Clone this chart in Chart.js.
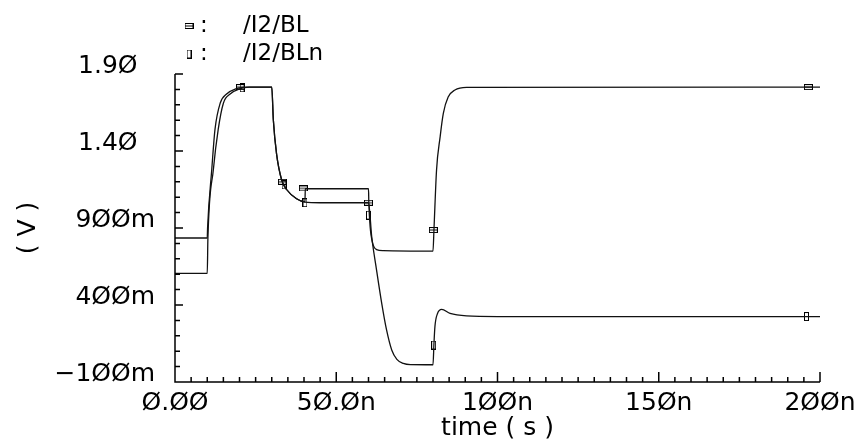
<!DOCTYPE html>
<html>
<head>
<meta charset="utf-8">
<script src="https://cdn.jsdelivr.net/npm/chart.js@4.4.0/dist/chart.umd.min.js"></script>
<style>
    html, body { margin: 0; padding: 0; background: #fff; }
    #wrap { width: 865px; height: 448px; }
</style>
</head>
<body>
<div id="wrap"><canvas id="WaveChart"></canvas></div>
<script>
// transient result, time in ns, volts
var tBL = [0, 10, 10.1, 11.4, 12.4, 14.0, 16.0, 19.0, 22, 30, 30.5, 31.5, 33.1, 34.6, 37.7, 40.3, 40.4, 60, 60.1,
    60.5, 61.3, 62.5, 64.6, 80, 80.3, 81.1, 82.2, 83.2, 84.7, 86.8, 90.4, 200];
var vBL = [0.835, 0.835, 0.90, 1.28, 1.54, 1.71, 1.77, 1.805, 1.815, 1.815, 1.60, 1.38, 1.21, 1.15, 1.09, 1.07, 1.155, 1.155, 1.065,
    0.91, 0.80, 0.76, 0.753, 0.75, 0.89, 1.277, 1.49, 1.644, 1.75, 1.796, 1.813, 1.815];
var tBLn = [0, 10, 10.2, 11.9, 13.4, 15.0, 17.1, 20.2, 23, 30, 30.5, 31.5, 33.1, 34.6, 37.7, 40.3, 45, 60,
    61.0, 62.5, 64.1, 65.6, 67.2, 68.8, 70.8, 73, 80, 80.3, 80.6, 81.4, 82.7, 85.3, 90.4, 100, 200];
var vBLn = [0.605, 0.605, 0.83, 1.28, 1.54, 1.71, 1.77, 1.805, 1.815, 1.815, 1.60, 1.38, 1.21, 1.15, 1.09, 1.068, 1.064, 1.064,
    0.843, 0.627, 0.411, 0.238, 0.108, 0.047, 0.021, 0.013, 0.012, 0.15, 0.26, 0.345, 0.372, 0.345, 0.329, 0.325, 0.325];

// trace markers
var markBLt = [20.3, 33.3, 39.8, 60.0, 80.1, 196.4];
var markBLv = [1.815, 1.20, 1.157, 1.064, 0.887, 1.815];
var markBLnT = [20.8, 33.8, 40.3, 60.0, 80.2, 195.8];
var markBLnV = [1.81, 1.18, 1.064, 0.984, 0.14, 0.325];

var xTicks = [0, 50, 100, 150, 200];
var xTickLabels = ["Ø.ØØ", "5Ø.Øn", "1ØØn", "15Øn", "2ØØn"];
var yTicks = [-0.1, 0.4, 0.9, 1.4, 1.9];
var yTickLabels = ["\u22121ØØm", "4ØØm", "9ØØm", "1.4Ø", "1.9Ø"];

var FONT = "'DejaVu Sans', sans-serif";

function pts(t, v) {
    return t.map(function (x, i) { return { x: x, y: v[i] }; });
}

function markerCanvas(w, h, horizontal) {
    var c = document.createElement("canvas");
    c.width = w;
    c.height = h;
    var g = c.getContext("2d");
    g.strokeStyle = "#000";
    g.lineWidth = 1;
    g.strokeRect(0.5, 0.5, w - 1, h - 1);
    g.beginPath();
    if (horizontal) {
        g.moveTo(1, h / 2); g.lineTo(w - 1, h / 2);
    }
    g.stroke();
    return c;
}
var mkBL = markerCanvas(9, 6, true);
var mkBLn = markerCanvas(5, 9, false);

// inward tick marks + axis lines
var axisTicks = {
    id: "axisTicks",
    afterDraw: function (chart) {
        var ctx = chart.ctx, xs = chart.scales.x, ys = chart.scales.y;
        var a = chart.chartArea;
        ctx.save();
        ctx.strokeStyle = "#000";
        ctx.lineWidth = 1.5;
        ctx.beginPath();
        ctx.moveTo(a.left, a.top);
        ctx.lineTo(a.left, a.bottom);
        ctx.lineTo(a.right, a.bottom);
        for (var k = 0; k <= 40; k++) {
            var px = xs.getPixelForValue(k * 5);
            var len = k % 10 === 0 ? 10 : 5;
            ctx.moveTo(px, a.bottom);
            ctx.lineTo(px, a.bottom - len);
        }
        for (var j = -1; j <= 19; j++) {
            var py = ys.getPixelForValue(j / 10);
            var l2 = (j + 1) % 5 === 0 ? 8 : 5;
            ctx.moveTo(a.left, py);
            ctx.lineTo(a.left + l2, py);
        }
        ctx.stroke();
        ctx.restore();
    }
};

// two-line legend at the top
var topLegend = {
    id: "topLegend",
    afterDraw: function (chart) {
        var ctx = chart.ctx;
        var rows = [[mkBL, chart.data.datasets[0].label, 26], [mkBLn, chart.data.datasets[1].label, 54]];
        ctx.save();
        ctx.fillStyle = "#000";
        ctx.font = "23px " + FONT;
        ctx.textBaseline = "middle";
        rows.forEach(function (r) {
            ctx.drawImage(r[0], 189 - r[0].width / 2, r[2] - r[0].height / 2);
            ctx.fillText(":", 200, r[2]);
            ctx.fillText(r[1], 243, r[2]);
        });
        ctx.restore();
    }
};

new Chart(document.getElementById("WaveChart"), {
    type: "line",
    data: {
        datasets: [
            {
                label: "/I2/BL",
                data: pts(tBL, vBL),
                borderColor: "#111",
                borderWidth: 1.3,
                pointRadius: 0,
                cubicInterpolationMode: "monotone"
            },
            {
                label: "/I2/BLn",
                data: pts(tBLn, vBLn),
                borderColor: "#111",
                borderWidth: 1.3,
                pointRadius: 0,
                cubicInterpolationMode: "monotone"
            },
            {
                type: "scatter",
                label: "BL marks",
                data: pts(markBLt, markBLv),
                pointStyle: mkBL,
                showLine: false
            },
            {
                type: "scatter",
                label: "BLn marks",
                data: pts(markBLnT, markBLnV),
                pointStyle: mkBLn,
                showLine: false
            }
        ]
    },
    options: {
        responsive: true,
        maintainAspectRatio: false,
        animation: false,
        layout: { padding: { top: 74, right: 45, left: 0, bottom: 0 } },
        plugins: {
            legend: { display: false },
            tooltip: { enabled: false }
        },
        scales: {
            x: {
                type: "linear",
                min: 0,
                max: 200,
                afterBuildTicks: function (s) {
                    s.ticks = xTicks.map(function (v) { return { value: v }; });
                },
                afterFit: function (s) { s.height = 66; },
                grid: { display: false, drawTicks: false },
                border: { display: false },
                ticks: {
                    autoSkip: false,
                    maxRotation: 0,
                    padding: 6,
                    color: "#000",
                    font: { family: FONT, size: 25 },
                    callback: function (v, i) { return xTickLabels[i]; }
                },
                title: {
                    display: true,
                    text: "time ( s )",
                    color: "#000",
                    font: { family: FONT, size: 25 },
                    padding: { top: 0, bottom: 5 }
                }
            },
            y: {
                type: "linear",
                min: -0.1,
                max: 1.9,
                afterBuildTicks: function (s) {
                    s.ticks = yTicks.map(function (v) { return { value: v }; });
                },
                afterFit: function (s) { s.width = 175; },
                grid: { display: false, drawTicks: false },
                border: { display: false },
                ticks: {
                    padding: 20,
                    labelOffset: -8,
                    color: "#000",
                    font: { family: FONT, size: 25 },
                    callback: function (v, i) {
                        var t = yTickLabels[i];
                        return t.slice(-1) === "m" ? t : t + "\u2002\u2009";
                    }
                },
                title: {
                    display: true,
                    text: "( V )",
                    color: "#000",
                    font: { family: FONT, size: 25 },
                    padding: { top: 13, bottom: 0 }
                }
            }
        }
    },
    plugins: [axisTicks, topLegend]
});
</script>
</body>
</html>
